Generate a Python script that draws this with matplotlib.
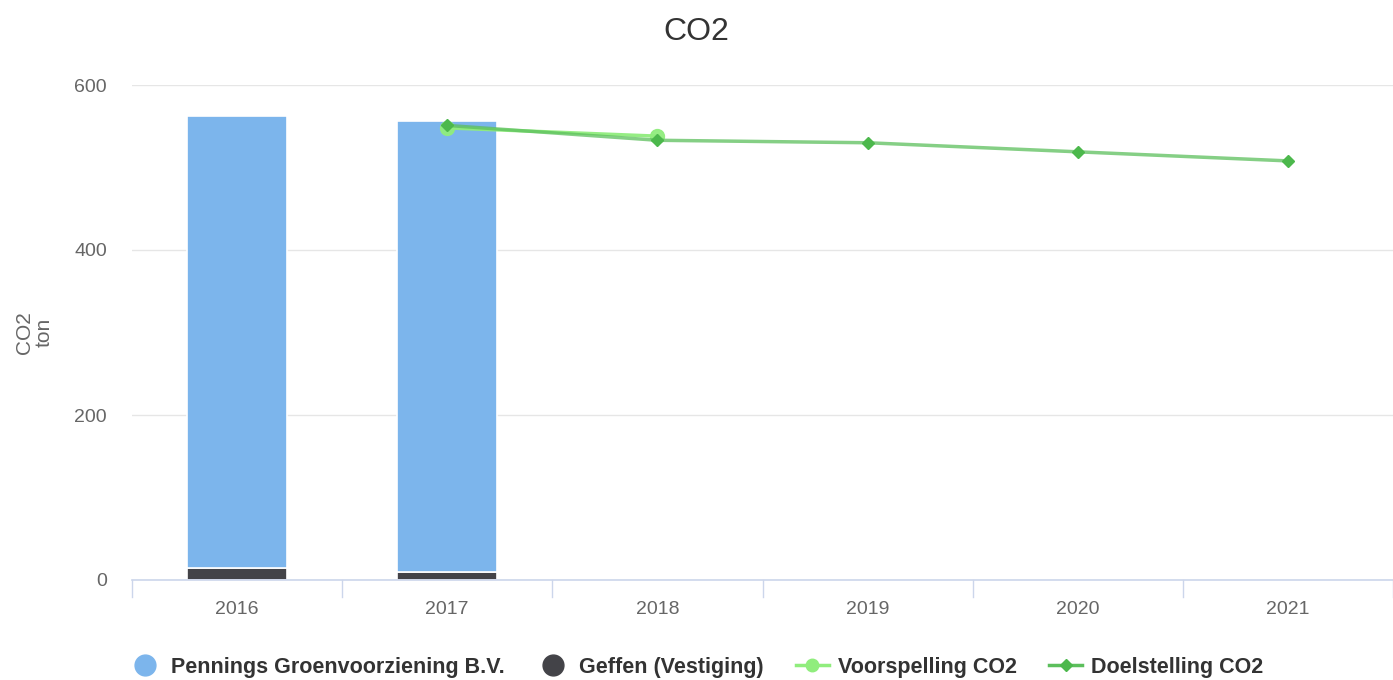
import matplotlib
matplotlib.use("Agg")
import matplotlib.pyplot as plt
from matplotlib.lines import Line2D
import numpy as np

plt.rcParams["font.family"] = ["Liberation Sans", "DejaVu Sans"]

years = ["2016", "2017", "2018", "2019", "2020", "2021"]
pennings = [548, 546, None, None, None, None]
geffen = [14, 10, None, None, None, None]
voorspelling_years = ["2017", "2018"]
voorspelling = [548, 538]
doel_years = ["2017", "2018", "2019", "2020", "2021"]
doelstelling = [551, 533, 530, 519, 508]
y_ticks = [0, 200, 400, 600]

C_PEN = "#7cb5ec"
C_GEF = "#434348"
C_VOOR = "#90ed7d"
C_DOEL = "#5cbf5c"

fig = plt.figure(figsize=(13.93, 6.8), dpi=100)
ax = fig.add_axes([132/1393, 100/680, 1 - 132/1393, (580-85)/680])

x = np.arange(len(years))
idx = {y: i for i, y in enumerate(years)}
bw = 100/210
for i in range(len(years)):
    if geffen[i] is None:
        continue
    ax.bar(x[i], geffen[i], width=bw, color=C_GEF, edgecolor="white", linewidth=1.2, zorder=2)
    ax.bar(x[i], pennings[i], bottom=geffen[i], width=bw, color=C_PEN, edgecolor="white", linewidth=1.2, zorder=2)

vx = [idx[y] for y in voorspelling_years]
dx = [idx[y] for y in doel_years]
ax.plot(vx, voorspelling, color=C_VOOR, lw=2.5, marker="o", ms=10, mfc=C_VOOR, mec=C_VOOR, zorder=3, alpha=0.95)
ax.plot(dx, doelstelling, color=C_DOEL, lw=2.5, alpha=0.75, zorder=4)
ax.plot(dx, doelstelling, ls="none", marker="D", ms=6, color="#4cb84c", zorder=5)

ax.set_xlim(-0.5, len(years) - 0.5)
ax.set_ylim(0, 600)
ax.set_yticks(y_ticks)
ax.set_yticklabels([str(t) for t in y_ticks], color="#666666", fontsize=14)
ax.set_xticks(x)
ax.set_xticklabels(years, color="#666666", fontsize=14)
ax.tick_params(axis="y", length=0, pad=18)
ax.tick_params(axis="x", length=0, pad=15)
for b in np.arange(-0.5, len(years), 1.0):
    ax.plot([b, b], [0, -20], color="#ccd6eb", lw=1, clip_on=False, zorder=1)
ax.grid(axis="y", color="#e6e6e6", lw=1)
ax.set_axisbelow(True)
for s in ["top", "right", "left"]:
    ax.spines[s].set_visible(False)
ax.spines["bottom"].set_color("#ccd6eb")
ax.spines["bottom"].set_linewidth(1.2)

ax.set_ylabel("CO2\nton", color="#666666", fontsize=15, labelpad=15, linespacing=1.05)
fig.text(0.5, 1 - 32/680, "CO2", ha="center", va="center", fontsize=23, color="#333333")

handles = [
    Line2D([], [], ls="none", marker="o", ms=15, mfc=C_PEN, mec=C_PEN),
    Line2D([], [], ls="none", marker="o", ms=15, mfc=C_GEF, mec=C_GEF),
    Line2D([], [], color=C_VOOR, lw=2.5, marker="o", ms=9, mfc=C_VOOR, mec=C_VOOR),
    Line2D([], [], color=C_DOEL, lw=2.5, marker="D", ms=6, mfc="#4cb84c", mec="#4cb84c"),
]
labels = ["Pennings Groenvoorziening B.V.", "Geffen (Vestiging)", "Voorspelling CO2", "Doelstelling CO2"]
leg = fig.legend(handles, labels, loc="center", bbox_to_anchor=(0.5, 1 - 667/680), ncol=4,
                 frameon=False, prop={"weight": "bold", "size": 15.5}, handlelength=1.5,
                 columnspacing=1.5, handletextpad=0.45)
for t in leg.get_texts():
    t.set_color("#333333")

fig.savefig("out.png", dpi=100)
